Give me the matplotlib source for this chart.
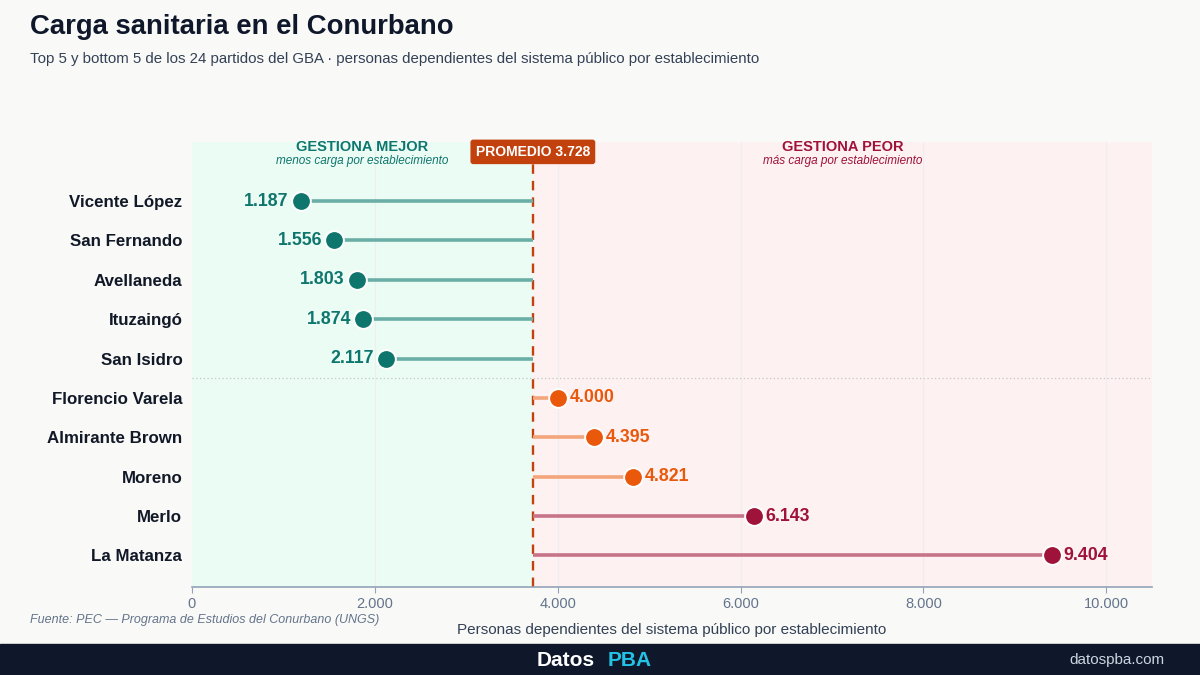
import matplotlib.pyplot as plt
from matplotlib.ticker import FuncFormatter

plt.rcParams['font.family'] = ['Liberation Sans', 'DejaVu Sans']

partidos = ['Vicente López', 'San Fernando', 'Avellaneda', 'Ituzaingó', 'San Isidro',
            'Florencio Varela', 'Almirante Brown', 'Moreno', 'Merlo', 'La Matanza']
valores = [1187, 1556, 1803, 1874, 2117, 4000, 4395, 4821, 6143, 9404]
promedio = 3728
xticks = [0, 2000, 4000, 6000, 8000, 10000]

BG = '#f9f9f7'
TEAL = '#0f766e'
TEAL_L = '#6aaea6'
ORANGE = '#ea580c'
ORANGE_L = '#f3a67c'
CRIMSON = '#9f1239'
CRIMSON_L = '#c77388'
AVG = '#c2410c'


def fmt(v):
    return f'{v:,.0f}'.replace(',', '.')


fig = plt.figure(figsize=(12, 6.75), dpi=100, facecolor=BG)
ax = fig.add_axes([0.16, 0.1304, 0.80, 0.6592])
ax.set_facecolor(BG)

xmax = 10500
ax.set_xlim(0, xmax)
ax.set_ylim(9.8, -1.5)

# zonas
ax.axvspan(0, promedio, color='#ebfcf4', zorder=0)
ax.axvspan(promedio, xmax, color='#fdf1f1', zorder=0)
for t in xticks[1:]:
    ax.axvline(t, color='#eceeef', lw=0.8, zorder=1)

ax.axhline(4.5, color='#c4c8cc', lw=0.9, ls=(0, (1, 2)), zorder=1)
ax.axvline(promedio, color=AVG, lw=1.7, ls=(0, (4, 3)), zorder=2)

for i, (p, v) in enumerate(zip(partidos, valores)):
    if v < promedio:
        c, cl = TEAL, TEAL_L
    elif v < 5000:
        c, cl = ORANGE, ORANGE_L
    else:
        c, cl = CRIMSON, CRIMSON_L
    ax.plot([promedio, v], [i, i], color=cl, lw=2.6, solid_capstyle='butt', zorder=3)
    ax.plot(v, i, 'o', ms=13.5, color=c, mec='white', mew=1.4, zorder=4)
    if v < promedio:
        ax.text(v - 130, i, fmt(v), ha='right', va='center', fontsize=12.8,
                fontweight='bold', color=c, zorder=5)
    else:
        ax.text(v + 130, i, fmt(v), ha='left', va='center', fontsize=12.8,
                fontweight='bold', color=c, zorder=5)

ax.set_yticks(range(len(partidos)))
ax.set_yticklabels(partidos, fontsize=12.2, fontweight='bold', color='#111827')
ax.tick_params(axis='y', length=0, pad=7)

ax.set_xticks(xticks)
ax.xaxis.set_major_formatter(FuncFormatter(lambda v, _: fmt(v)))
ax.tick_params(axis='x', length=4, color='#94a3b8', labelcolor='#64748b', labelsize=10.5)
ax.set_xlabel('Personas dependientes del sistema público por establecimiento',
              fontsize=11, color='#334155', labelpad=8)

for s in ['top', 'right', 'left']:
    ax.spines[s].set_visible(False)
ax.spines['bottom'].set_color('#94a3b8')
ax.spines['bottom'].set_linewidth(1.2)

# encabezados de zona
ax.text(promedio / 2, -1.38, 'GESTIONA MEJOR', ha='center', va='center',
        fontsize=10.5, fontweight='bold', color=TEAL)
ax.text(promedio / 2, -1.03, 'menos carga por establecimiento', ha='center', va='center',
        fontsize=8.5, style='italic', color=TEAL)
ax.text((promedio + xmax) / 2, -1.38, 'GESTIONA PEOR', ha='center', va='center',
        fontsize=10.5, fontweight='bold', color=CRIMSON)
ax.text((promedio + xmax) / 2, -1.03, 'más carga por establecimiento', ha='center', va='center',
        fontsize=8.5, style='italic', color=CRIMSON)
ax.text(promedio, -1.25, f'PROMEDIO {fmt(promedio)}', ha='center', va='center',
        fontsize=10, fontweight='bold', color='white', zorder=6,
        bbox=dict(boxstyle='round,pad=0.38,rounding_size=0.2', fc=AVG, ec='none'))

# titulos
fig.text(30 / 1200, 1 - 27 / 675, 'Carga sanitaria en el Conurbano', ha='left', va='center',
         fontsize=19.8, fontweight='bold', color='#0f172a')
fig.text(30 / 1200, 1 - 59 / 675,
         'Top 5 y bottom 5 de los 24 partidos del GBA · personas dependientes del sistema público por establecimiento',
         ha='left', va='center', fontsize=10.8, color='#334155')
fig.text(30 / 1200, 1 - 620 / 675, 'Fuente: PEC — Programa de Estudios del Conurbano (UNGS)',
         ha='left', va='center', fontsize=9, style='italic', color='#64748b')

# pie
fig.patches.append(plt.Rectangle((0, 0), 1, 31 / 675, transform=fig.transFigure,
                                 color='#0f172a', zorder=0))
fig.text(0.5 - 0.004, 1 - 660 / 675, 'Datos', ha='right', va='center', fontsize=15,
         fontweight='bold', color='white')
fig.text(0.5 + 0.006, 1 - 660 / 675, 'PBA', ha='left', va='center', fontsize=15,
         fontweight='bold', color='#22c3e6')
fig.text(1164 / 1200, 1 - 660 / 675, 'datospba.com', ha='right', va='center', fontsize=11,
         color='#cbd5e1')

fig.savefig('out.png', dpi=100, facecolor=BG)
